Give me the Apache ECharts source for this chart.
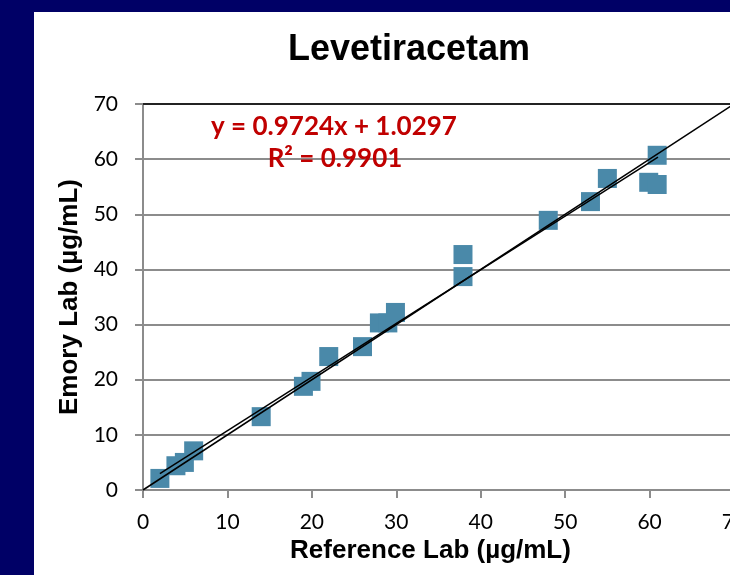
<!DOCTYPE html>
<html>
<head>
<meta charset="utf-8">
<script src="https://cdn.jsdelivr.net/npm/echarts@6/dist/echarts.min.js"></script>
<style>
html,body{margin:0;padding:0;background:#000066;}
#c{width:730px;height:575px;}
</style>
</head>
<body>
<div id="c"></div>
<script>
// Data
var referenceLab = [2, 3.9, 4.9, 6, 14, 19, 19.9, 22, 26, 28, 29, 29.9, 37.9, 37.9, 48, 53, 55, 59.9, 60.9, 60.9];
var emoryLab     = [2.1, 4.4, 5.0, 7.1, 13.3, 18.8, 19.7, 24.2, 26.0, 30.3, 30.3, 32.2, 38.7, 42.7, 48.9, 52.3, 56.5, 55.8, 55.4, 60.7];
var trendCoef = [0.9724, 1.0297];   // slope, intercept
var trendRange = [2, 61];
var identityRange = [0, 70];

var points = referenceLab.map(function (x, i) { return [x, emoryLab[i]]; });
var trend = trendRange.map(function (x) { return [x, trendCoef[0] * x + trendCoef[1]]; });
var identity = identityRange.map(function (x) { return [x, x]; });

var chart = echarts.init(document.getElementById('c'));
var tickFont = { fontFamily: 'Lato, "Open Sans", sans-serif', fontSize: 21, color: '#000' };
var grey = '#8c8c8c';
chart.setOption({
  backgroundColor: '#000066',
  animation: false,
  title: {
    text: 'Levetiracetam',
    left: 404, top: 27, textAlign: 'center',
    textStyle: { fontFamily: '"Liberation Sans", Arial, sans-serif', fontWeight: 'bold', fontSize: 36, color: '#000' }
  },
  graphic: [
    { type: 'rect', z: -10, silent: true, shape: { x: 34, y: 12, width: 696, height: 563 }, style: { fill: '#ffffff' } },
    { type: 'text', z: 100, x: 334, y: 127,
      style: { text: 'y = 0.9724x + 1.0297', fill: '#C00000', font: 'bold 26px Lato, "Open Sans", sans-serif', textAlign: 'center', textVerticalAlign: 'middle' } },
    { type: 'text', z: 100, x: 335, y: 159,
      style: { text: 'R² = 0.9901', fill: '#C00000', font: 'bold 26px Lato, "Open Sans", sans-serif', textAlign: 'center', textVerticalAlign: 'middle' } }
  ],
  grid: { left: 143, top: 104, width: 591, height: 386, containLabel: false, outerBoundsMode: 'none' },
  xAxis: [{
    type: 'value', min: 0, max: 70, interval: 10,
    name: 'Reference Lab (µg/mL)', nameLocation: 'middle', nameGap: 47,
    nameTextStyle: { fontFamily: '"Liberation Sans", Arial, sans-serif', fontWeight: 'bold', fontSize: 26, color: '#000', padding: [0, 16, 0, 0] },
    axisLine: { show: true, lineStyle: { color: grey, width: 2 } },
    axisTick: { show: true, length: 8, lineStyle: { color: grey, width: 2 } },
    axisLabel: Object.assign({ margin: 22 }, tickFont),
    splitLine: { show: false }
  }, {
    type: 'value', min: 0, max: 70, position: 'top',
    axisLine: { show: true, lineStyle: { color: '#000', width: 1.5 } },
    axisTick: { show: false }, axisLabel: { show: false }, splitLine: { show: false }
  }],
  yAxis: {
    type: 'value', min: 0, max: 70, interval: 10,
    name: 'Emory Lab (µg/mL)', nameLocation: 'middle', nameGap: 59,
    nameTextStyle: { fontFamily: '"Liberation Sans", Arial, sans-serif', fontWeight: 'bold', fontSize: 26, color: '#000' },
    axisLine: { show: true, lineStyle: { color: grey, width: 2 } },
    axisTick: { show: true, length: 8, lineStyle: { color: grey, width: 2 } },
    axisLabel: Object.assign({ margin: 25 }, tickFont),
    splitLine: { show: true, lineStyle: { color: grey, width: 2 } }
  },
  series: [
    { type: 'scatter', data: points, symbol: 'rect', symbolSize: 19, itemStyle: { color: '#4A89A9', opacity: 1 }, z: 2 },
    { type: 'line', data: identity, showSymbol: false, lineStyle: { color: '#000', width: 1.5 }, z: 3 },
    { type: 'line', data: trend, showSymbol: false, lineStyle: { color: '#000', width: 1.5 }, z: 3 }
  ]
});
</script>
</body>
</html>
